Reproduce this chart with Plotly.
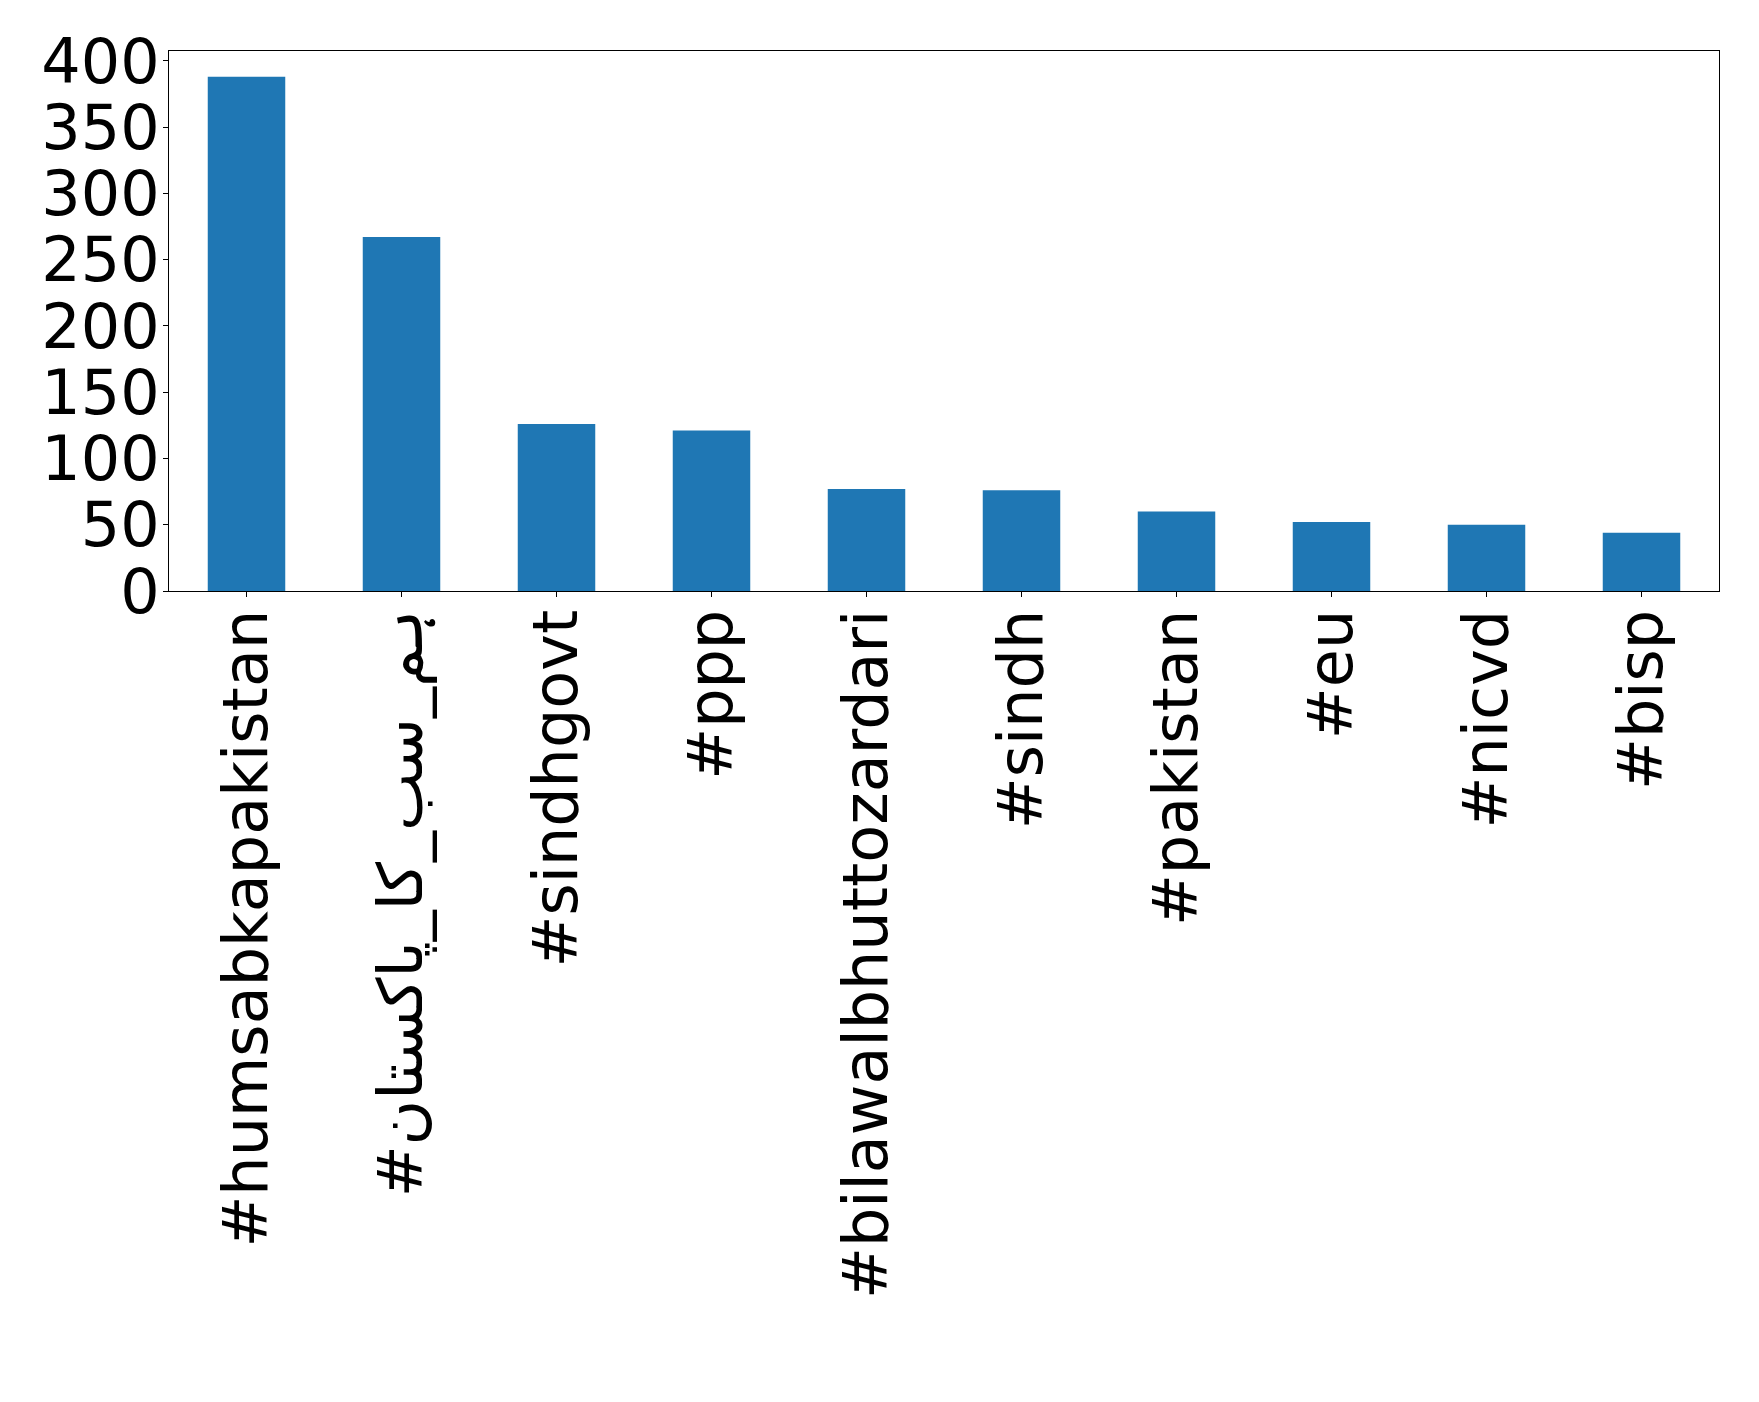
import plotly.graph_objects as go

categories = ["#humsabkapakistan", "#ہم_سب_کا_پاکستان", "#sindhgovt", "#ppp",
              "#bilawalbhuttozardari", "#sindh", "#pakistan", "#eu", "#nicvd", "#bisp"]
counts = [388, 267, 126, 121, 77, 76, 60, 52, 50, 44]
y_ticks = [0, 50, 100, 150, 200, 250, 300, 350, 400]

fig = go.Figure()
fig.add_trace(go.Bar(
    x=list(range(len(categories))), y=counts, width=0.5,
    marker=dict(color="#1f77b4", line=dict(width=0)),
))

font = dict(family="DejaVu Sans", size=62, color="black")
fig.update_layout(
    width=1759, height=1402,
    margin=dict(l=161, r=48, t=43, b=819, autoexpand=False),
    paper_bgcolor="white", plot_bgcolor="white",
    showlegend=False, font=font,
)
fig.update_xaxes(
    range=[-0.5, len(categories) - 0.5],
    tickmode="array", tickvals=list(range(len(categories))), ticktext=categories,
    tickangle=-90, ticks="outside", ticklen=5, tickwidth=1, tickcolor="black",
    showline=True, linecolor="black", linewidth=1, mirror=True,
    showgrid=False, zeroline=False, tickfont=font, automargin=False,
    ticklabelstandoff=-12,
)
fig.update_yaxes(
    range=[0, max(counts) * 1.05],
    tickmode="array", tickvals=y_ticks, ticktext=[str(v) for v in y_ticks],
    ticks="outside", ticklen=5, tickwidth=1, tickcolor="black",
    showline=True, linecolor="black", linewidth=1, mirror=True,
    showgrid=False, zeroline=False, tickfont=font, automargin=False,
    ticklabelstandoff=-9,
)
fig.write_html("out.html")
